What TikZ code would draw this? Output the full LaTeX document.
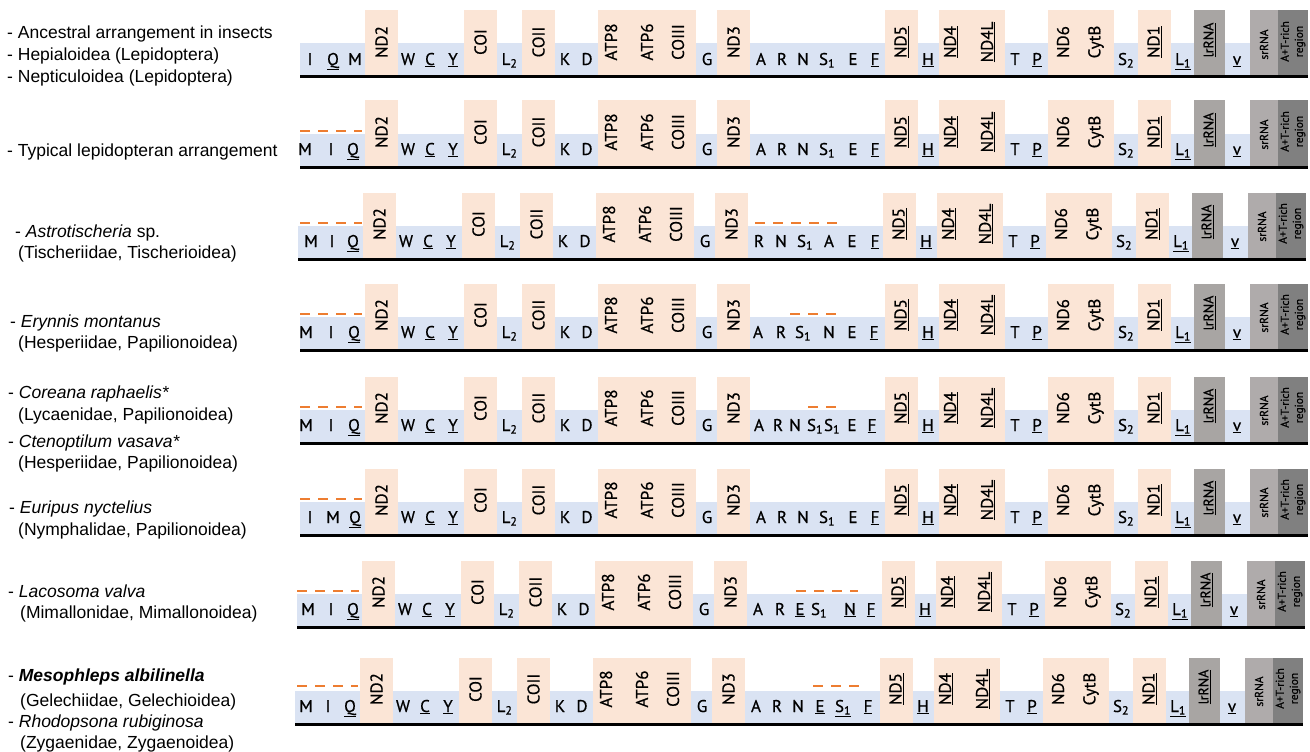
\documentclass[tikz,border=0pt]{standalone}
\usepackage{fontspec}
\setmainfont{Liberation Sans}
\newfontfamily\genefont{PT Sans}[FakeBold=0.6]
\usepackage{tikz}
\usetikzlibrary{positioning}
\definecolor{trnablue}{RGB}{218,227,243}
\definecolor{pcgpeach}{RGB}{251,229,214}
\definecolor{lrgray}{RGB}{168,165,163}
\definecolor{srgray}{RGB}{175,171,171}
\definecolor{atgray}{RGB}{128,128,128}
\definecolor{lossorange}{RGB}{237,125,49}
\newcommand{\generow}[5]{%
  \begin{scope}[shift={(#3,#2)}]
    \foreach \xa/\xb/\kind [count=\i] in {300/365/trna, 365/398/pcg, 398/464/trna, 464/497/pcg,
        497/522/trna, 522/555/pcg, 555/598/trna, 598/696/pcg, 696/717/trna, 717/750/pcg,
        750/885/trna, 885/918/pcg, 918/939/trna, 939/1005/pcg, 1005/1048/trna, 1048/1114/pcg,
        1114/1138/trna, 1138/1171/pcg, 1171/1194/trna, 1194/1225/lrbox, 1225/1250/trna,
        1250/1278/srbox, 1278/1308/atbox}
      \node[\kind, minimum width=\xb-\xa, anchor=south west] (#1b\i) at (\xa,-1.5) {};
    \draw[spine] ([yshift=-1.5pt]#1b1.south west) -- ([yshift=-1.5pt]#1b23.south east);
    \foreach \x/\g [count=\i] in {381.5/ND2, 480.5/COI, 538.5/COII, 611/ATP8, 647/ATP6,
        678/COIII, 733.5/ND3, 901.5/\underline{ND5}, 951/\underline{ND4}, 988/\underline{ND4L},
        1063/ND6, 1096/CytB, 1154.5/\underline{ND1}}
      \node[tall] (#1p\i) at (\x,-35) {\g};
    \node[tall, font=\genefont\fontsize{14}{16}\selectfont] (#1lr) at (1209.5,-37) {\underline{lrRNA}};
    \node[small] (#1sr) at (1264,-32.5) {srRNA};
    \node[small] (#1at) at (1293,-35.5) {A+T-rich\\region};
    \foreach \x/\g [count=\i] in {408/W, 430/\underline{C}, 453/\underline{Y}, 509.5/L\textsubscript{2},
        565/K, 587/D, 707/G, 928/\underline{H}, 1015/T, 1037/\underline{P},
        1126/S\textsubscript{2}, 1183/\underline{L\textsubscript{1}}, 1237/\underline{v}}
      \node[short] (#1t\i) at (\x,-12) {\g};
    \foreach \x/\g [count=\i] in {#4} \node[short] (#1f\i) at (\x,-12) {\g};
    \foreach \x/\g [count=\i] in {#5} \node[short] (#1m\i) at (\x,-12) {\g};
  \end{scope}}

\begin{document}
\begin{tikzpicture}[x=1pt, y=-1pt,
  gbox/.style={rectangle, inner sep=0pt, outer sep=0pt, minimum height=32},
  trna/.style={gbox, fill=trnablue},
  pcg/.style={gbox, fill=pcgpeach, minimum height=65},
  lrbox/.style={gbox, fill=lrgray, minimum height=65},
  srbox/.style={gbox, fill=srgray, minimum height=65},
  atbox/.style={gbox, fill=atgray, minimum height=65},
  short/.style={font=\genefont\fontsize{17}{18}\selectfont, anchor=base, inner sep=0pt},
  tall/.style={short, anchor=center, rotate=90},
  small/.style={font=\genefont\fontsize{11.5}{14}\selectfont, rotate=90, inner sep=0pt, align=center},
  spine/.style={line width=3pt},
  lost/.style={draw=lossorange, line width=2.5pt, dash pattern=on 10pt off 8pt},
  taxon/.style={font=\fontsize{17.5}{21}\selectfont, anchor=base west, inner sep=0pt}]

  \useasboundingbox (0,0) rectangle (1310,752);

  \generow{r1}{77}{0}{310/I, 333/\underline{Q}, 355/M}
    {761/A, 782/R, 803/N, 827/S\textsubscript{1}, 853/E, 875/\underline{F}}
  \generow{r2}{167}{0}{305/M, 331/I, 353/\underline{Q}}
    {761/A, 782/R, 803/N, 827/S\textsubscript{1}, 853/E, 875/\underline{F}}
  \generow{r3}{259}{-2}{313/M, 334/I, 355/\underline{Q}}
    {761/R, 783/N, 807/S\textsubscript{1}, 831/A, 854/E, 877/\underline{F}}
  \generow{r4}{350}{0}{306/M, 331/I, 354/\underline{Q}}
    {758/A, 781/R, 803/S\textsubscript{1}, 829/N, 852/E, 874/\underline{F}}
  \generow{r5}{443}{0}{306/M, 331/I, 354/\underline{Q}}
    {759/A, 778/R, 795/N, 815/S\textsubscript{1}, 832/S\textsubscript{1}, 852/E, 872/\underline{F}}
  \generow{r6}{535}{0}{310/I, 333/M, 355/\underline{Q}}
    {761/A, 782/R, 803/N, 827/S\textsubscript{1}, 853/E, 875/\underline{F}}
  \generow{r7}{627}{-3}{311/M, 334/I, 356/\underline{Q}}
    {761/A, 783/R, 803/\underline{E}, 822/S\textsubscript{1}, 853/\underline{N}, 874/\underline{F}}
  \generow{r8}{724}{-5}{311/M, 333/I, 355/\underline{Q}}
    {761/A, 782/R, 803/N, 825/\underline{E}, 848/\underline{S\textsubscript{1}}, 873/\underline{F}}

  \draw[lost] (300,131) -- (362,131);
  \draw[lost] (300,223) -- (362,223);
  \draw[lost] (755,223) -- (837,223);
  \draw[lost] (300,314) -- (362,314);
  \draw[lost] (790,314) -- (836,314);
  \draw[lost] (300,407) -- (362,407);
  \draw[lost] (808,407) -- (836,407);
  \draw[lost] (300,499) -- (362,499);
  \draw[lost] (297,591) -- (359,591);
  \draw[lost] (796,591) -- (858,591);
  \draw[lost] (297,686) -- (358,686);
  \draw[lost] (813,686) -- (859,686);

  \foreach \y/\x/\txt [count=\i] in {
      39/7/{- Ancestral arrangement in insects},
      61/7/{- Hepialoidea (Lepidoptera)},
      82/7/{- Nepticuloidea (Lepidoptera)},
      156/7/{- Typical lepidopteran arrangement},
      237/15/{- \textit{Astrotischeria} sp.},
      258/18/{(Tischeriidae, Tischerioidea)},
      327/10/{- \textit{Erynnis montanus}},
      348/18/{(Hesperiidae, Papilionoidea)},
      398/8/{- \textit{Coreana raphaelis*}},
      420/18/{(Lycaenidae, Papilionoidea)},
      447/8/{- \textit{Ctenoptilum vasava*}},
      468/18/{(Hesperiidae, Papilionoidea)},
      513/9/{- \textit{Euripus nyctelius}},
      535/18/{(Nymphalidae, Papilionoidea)},
      597/8/{- \textit{Lacosoma valva}},
      618/20/{(Mimallonidae, Mimallonoidea)},
      681/8/{- \textbf{\textit{Mesophleps albilinella}}},
      706/20/{(Gelechiidae, Gelechioidea)},
      727/8/{- \textit{Rhodopsona rubiginosa}},
      748/20/{(Zygaenidae, Zygaenoidea)}}
    \node[taxon] (tx\i) at (\x,\y) {\txt};
\end{tikzpicture}
\end{document}
